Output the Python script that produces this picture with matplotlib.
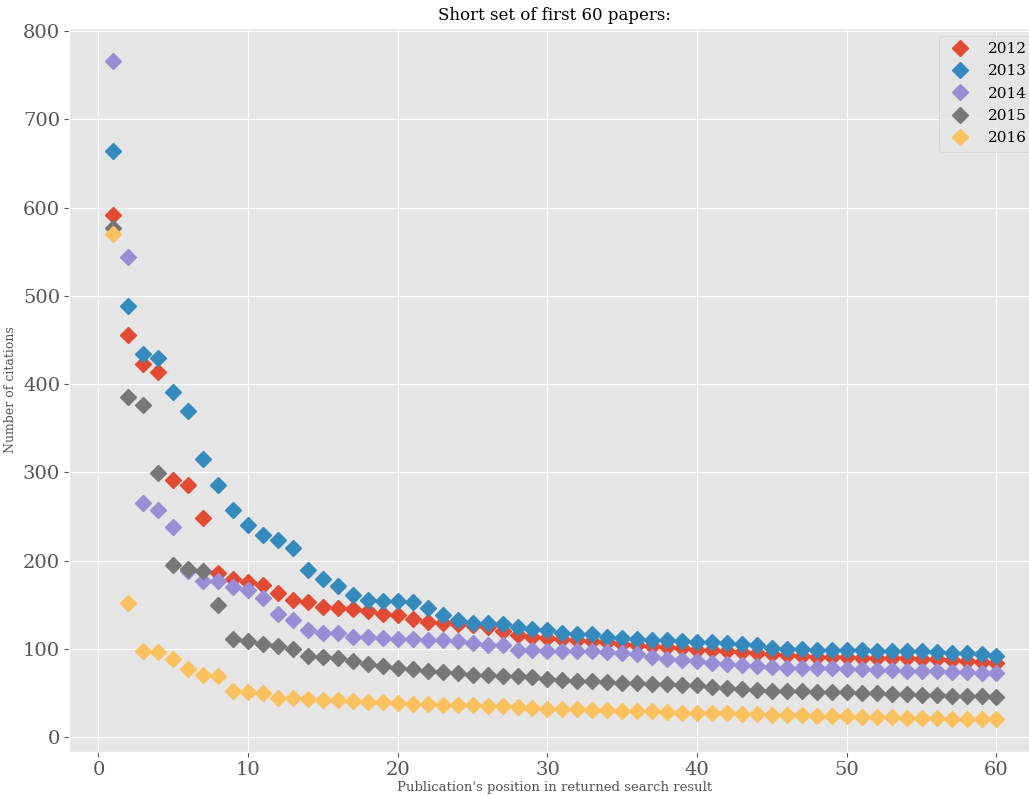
import numpy as np
import matplotlib
matplotlib.use("Agg")
import matplotlib.pyplot as plt

plt.style.use("ggplot")
plt.rcParams["font.family"] = ["DejaVu Serif"]

positions = list(range(1, 61))
years = ["2012", "2013", "2014", "2015", "2016"]

citations_2012 = [592, 456, 423, 414, 291, 286, 248, 186, 179, 176,
                  173, 163, 156, 153, 148, 146, 145, 143, 140, 139,
                  134, 131, 129, 128, 127, 125, 120, 116, 114, 112,
                  111, 110, 109, 108, 106, 104, 103, 102, 101, 99,
                  99, 98, 97, 96, 94, 93, 92, 91, 91, 91,
                  90, 90, 90, 90, 89, 89, 87, 86, 85, 84]
citations_2013 = [664, 489, 434, 430, 391, 370, 315, 286, 257, 241,
                  229, 224, 214, 190, 179, 171, 161, 155, 154, 154,
                  153, 147, 138, 133, 129, 129, 128, 125, 123, 121,
                  118, 117, 117, 114, 113, 111, 110, 110, 109, 108,
                  108, 107, 106, 105, 101, 100, 100, 99, 99, 99,
                  99, 98, 98, 98, 98, 97, 96, 95, 94, 92]
citations_2014 = [766, 544, 265, 257, 238, 188, 177, 177, 170, 167,
                  158, 140, 133, 121, 118, 118, 114, 114, 113, 111,
                  111, 110, 110, 109, 107, 104, 104, 99, 99, 98,
                  98, 98, 98, 97, 96, 94, 91, 89, 87, 86,
                  84, 83, 82, 81, 80, 79, 79, 78, 78, 77,
                  77, 76, 76, 75, 75, 75, 74, 74, 73, 73]
citations_2015 = [577, 385, 376, 299, 195, 191, 188, 150, 111, 109,
                  106, 103, 100, 92, 91, 90, 86, 83, 81, 78,
                  77, 75, 74, 73, 71, 71, 70, 70, 68, 66,
                  65, 64, 64, 63, 62, 62, 60, 60, 59, 59,
                  57, 56, 55, 54, 53, 52, 52, 51, 51, 51,
                  50, 50, 49, 49, 48, 48, 47, 47, 47, 46]
citations_2016 = [570, 152, 98, 97, 89, 77, 71, 70, 52, 51,
                  50, 45, 45, 43, 42, 42, 41, 40, 40, 39,
                  38, 38, 37, 37, 37, 35, 35, 34, 33, 32,
                  32, 32, 31, 31, 30, 30, 30, 29, 28, 28,
                  27, 27, 26, 26, 25, 25, 25, 24, 24, 24,
                  23, 23, 23, 22, 22, 22, 21, 21, 21, 21]

series = [citations_2012, citations_2013, citations_2014,
          citations_2015, citations_2016]

fig = plt.figure(figsize=(10.29, 7.96), dpi=100)
ax = fig.add_axes([0.0673, 0.0557, 0.944, 0.909])

for label, values in zip(years, series):
    ax.plot(positions, values, linestyle="none", marker="D",
            markersize=8, label=label)

ax.set_title("Short set of first 60 papers:", fontsize=12)
ax.set_xlabel("Publication's position in returned search result",
              fontsize=9.5, labelpad=2)
ax.set_ylabel("Number of citations", fontsize=9)
ax.tick_params(axis="both", labelsize=14, pad=3)
ax.legend(loc="upper right", fontsize=11, numpoints=1,
          labelspacing=0.55, borderaxespad=0.5)

fig.savefig("out.png", dpi=100)
